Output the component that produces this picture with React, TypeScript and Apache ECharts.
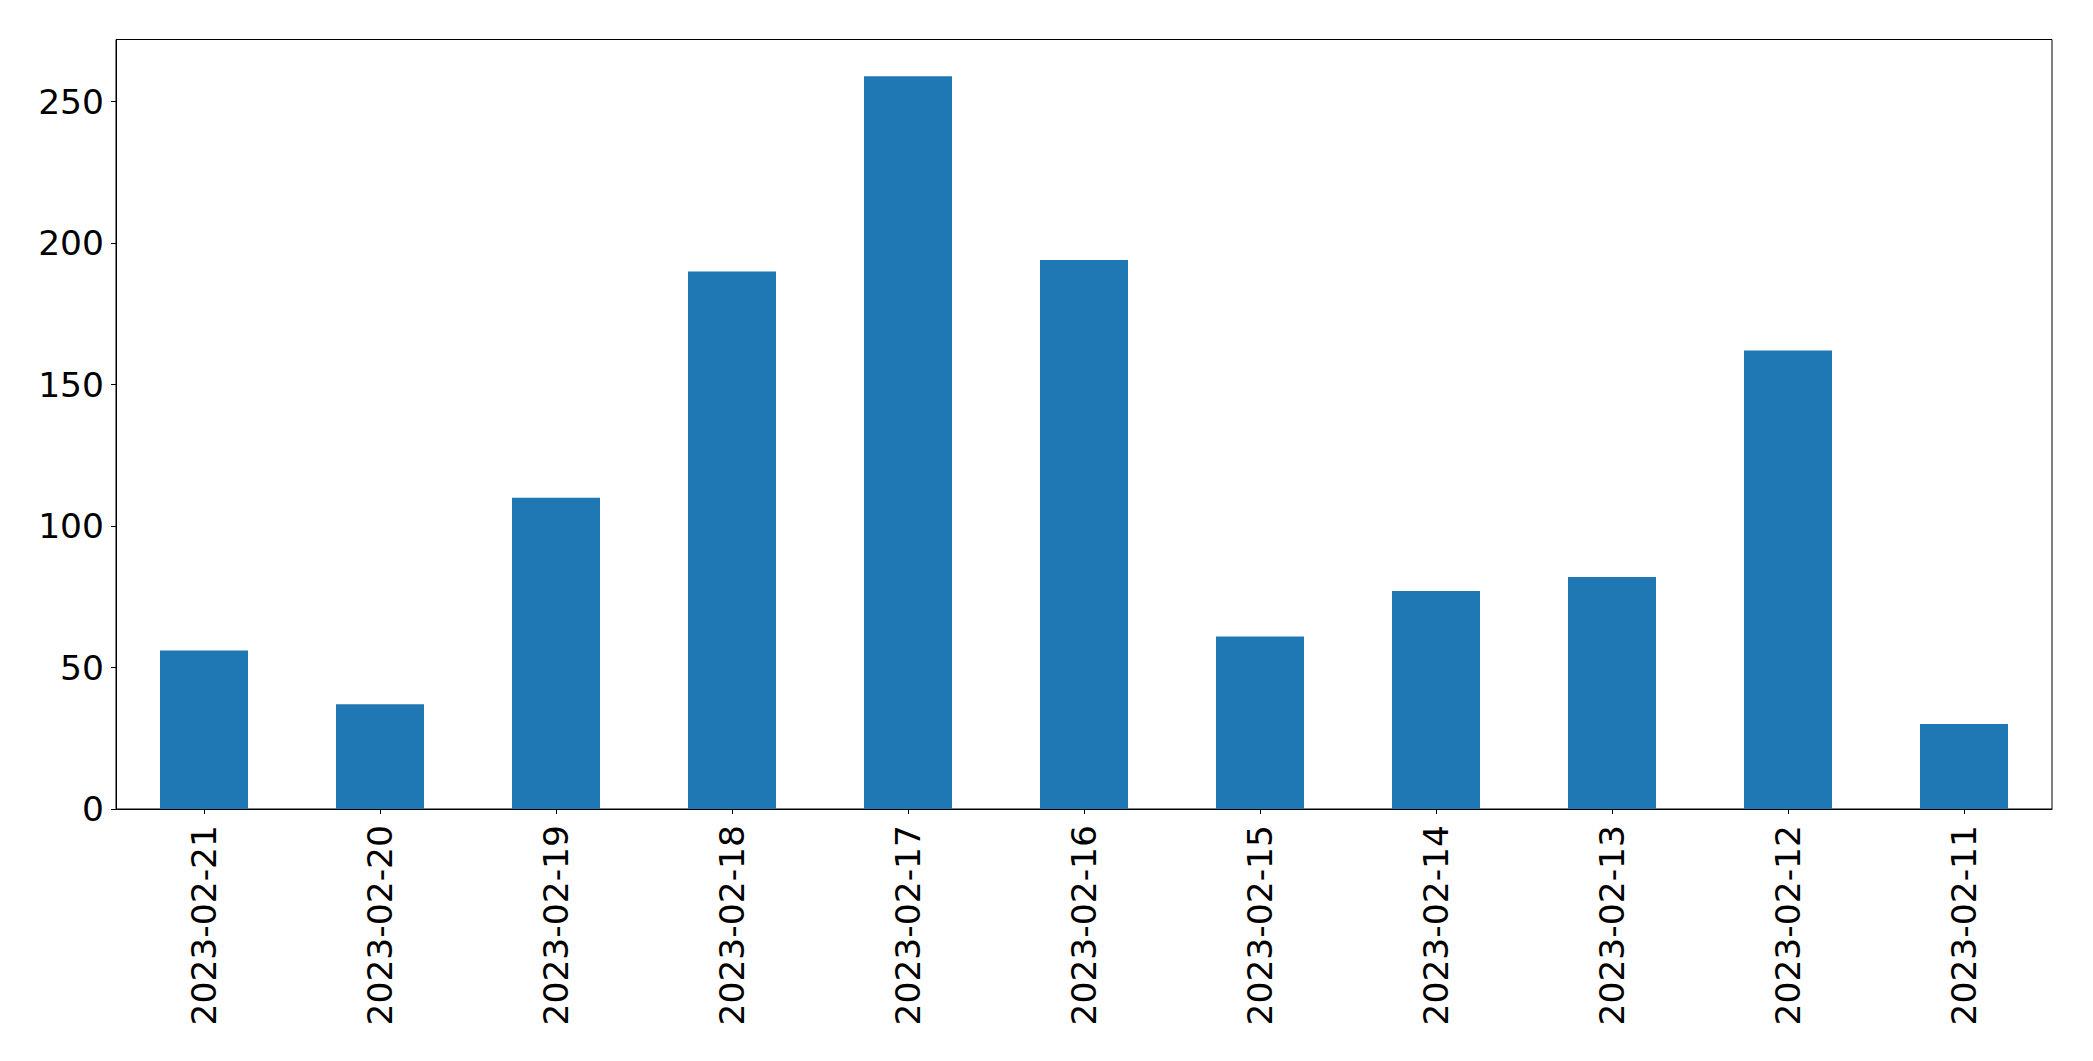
import React, { useEffect, useRef } from "react";
import * as echarts from "echarts";

const categories = [
  "2023-02-21",
  "2023-02-20",
  "2023-02-19",
  "2023-02-18",
  "2023-02-17",
  "2023-02-16",
  "2023-02-15",
  "2023-02-14",
  "2023-02-13",
  "2023-02-12",
  "2023-02-11",
];
const values = [56, 37, 110, 190, 259, 194, 61, 77, 82, 162, 30];
const yTicks = [0, 50, 100, 150, 200, 250];
const yMax = 271.95;

export default function App() {
  const ref = useRef<HTMLDivElement>(null);
  useEffect(() => {
    document.body.style.margin = "0";
    if (!ref.current) return;
    const chart = echarts.init(ref.current, null, { renderer: "svg" });
    const font = "DejaVu Sans";
    chart.setOption({
      animation: false,
      backgroundColor: "#ffffff",
      grid: {
        left: 116,
        right: 41,
        top: 39.5,
        bottom: 252,
        show: true,
        borderColor: "#000000",
        borderWidth: 1,
        backgroundColor: "transparent",
        containLabel: false,
      },
      xAxis: {
        type: "category",
        data: categories,
        boundaryGap: true,
        axisLine: { show: true, lineStyle: { color: "#000", width: 1 } },
        axisTick: { show: true, alignWithLabel: true, length: 5, lineStyle: { color: "#000", width: 1 } },
        axisLabel: {
          rotate: 90,
          fontSize: 34.5,
          fontFamily: font,
          color: "#000",
          margin: 16,
          interval: 0,
        },
        splitLine: { show: false },
      },
      yAxis: {
        type: "value",
        min: 0,
        max: yMax,
        interval: 50,
        axisLine: { show: true, lineStyle: { color: "#000", width: 1 } },
        axisTick: {
          show: true,
          length: 5,
          lineStyle: { color: "#000", width: 1 },
          customValues: yTicks,
        },
        axisLabel: {
          fontSize: 34.5,
          fontFamily: font,
          color: "#000",
          margin: 12,
          customValues: yTicks,
        },
        splitLine: { show: false },
      },
      series: [
        {
          type: "bar",
          data: values,
          barWidth: "50%",
          itemStyle: { color: "#1f77b4" },
        },
      ],
    });
    return () => chart.dispose();
  }, []);
  return (
    <div
      ref={ref}
      style={{ position: "absolute", left: 0, top: 0, width: 2093, height: 1061 }}
    />
  );
}
